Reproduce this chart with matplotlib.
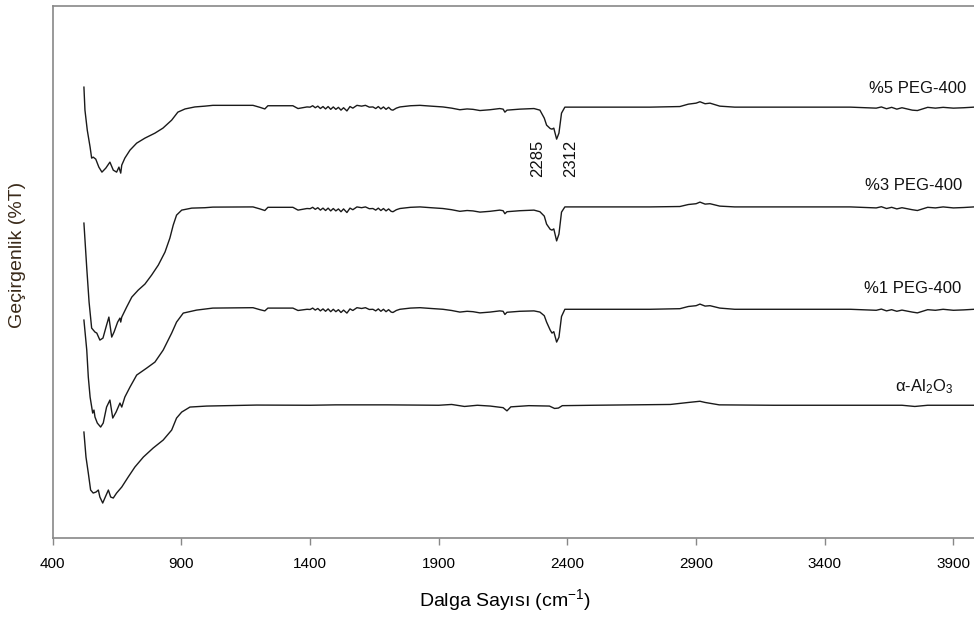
"""FT-IR spectra of alpha-Al2O3 and PEG-400 coated samples (stacked, offset)."""
import matplotlib
matplotlib.use("Agg")
import matplotlib.pyplot as plt

plt.rcParams["font.family"] = ["Liberation Sans", "DejaVu Sans"]
plt.rcParams["mathtext.fontset"] = "custom"
plt.rcParams["mathtext.rm"] = "Liberation Sans"
plt.rcParams["mathtext.default"] = "regular"

# wavenumber (cm-1) / offset transmittance
peg5_wn = [521, 525, 534, 545, 551, 557, 567, 579, 591, 606, 622, 635, 648, 657, 664, 668,
           680, 700, 726, 758, 797, 828, 862, 886, 914, 952, 991, 1022, 1178, 1205, 1224,
           1236, 1333, 1353, 1388, 1400, 1410, 1420, 1430, 1440, 1450, 1460, 1470, 1480,
           1490, 1500, 1510, 1520, 1530, 1543, 1555, 1566, 1582, 1600, 1615, 1630, 1644,
           1655, 1665, 1675, 1685, 1695, 1705, 1715, 1722, 1735, 1749, 1790, 1827, 1870,
           1916, 1950, 1982, 2010, 2033, 2060, 2099, 2137, 2150, 2157, 2165, 2215, 2270,
           2293, 2310, 2319, 2333, 2340, 2347, 2358, 2367, 2377, 2390, 2409, 2526, 2721,
           2837, 2870, 2900, 2915, 2935, 2954, 2992, 3050, 3500, 3560, 3600, 3620, 3640,
           3660, 3680, 3700, 3720, 3740, 3760, 3780, 3800, 3830, 3860, 3900, 3940, 3980]
peg5_t = [112.75, 107, 102, 97.75, 95, 95.25, 94.75, 92.75, 91.5, 92.5, 94, 92, 91.5, 92.75,
          91.25, 93.25, 95, 97, 98.75, 100, 101.25, 102.5, 104.5, 106.5, 107.3, 107.8, 108,
          108.2, 108.2, 107.7, 107.3, 108.1, 108.1, 107.4, 107.8, 107.75, 108.1, 107.6,
          108.0, 107.4, 107.9, 107.3, 107.9, 107.2, 107.8, 107.2, 107.7, 107.0, 107.6, 106.8,
          107.9, 107.5, 108.2, 108, 108.2, 107.75, 107.8, 107.4, 107.9, 107.3, 107.8, 107.2,
          107.7, 107.1, 107.0, 107.5, 107.8, 108.1, 108.2, 108, 107.8, 107.5, 107.1, 107.3,
          107.2, 106.9, 107.1, 107.4, 107.25, 106.5, 107, 107.25, 107.4, 107, 105, 103.25,
          102.4, 102.25, 102.5, 99.75, 101.25, 106.25, 107.75, 107.75, 107.75, 107.75,
          107.9, 108.5, 108.75, 109.1, 108.6, 108.75, 108, 107.75, 107.75, 107.6, 107.5,
          107.8, 107.35, 107.7, 107.25, 107.6, 107.3, 107.0, 106.9, 107.3, 107.7, 107.5,
          107.7, 107.5, 107.6, 107.75]

peg3_wn = [521, 532, 541, 551, 564, 571, 583, 595, 609, 618, 629, 638, 652, 661, 664, 668,
           687, 707, 732, 758, 784, 810, 836, 855, 868, 881, 901, 940, 991, 1022, 1178,
           1205, 1224, 1236, 1333, 1353, 1388, 1400, 1410, 1420, 1430, 1440, 1450, 1460,
           1470, 1480, 1490, 1500, 1510, 1520, 1530, 1543, 1555, 1566, 1582, 1600, 1615,
           1630, 1644, 1655, 1665, 1675, 1685, 1695, 1705, 1715, 1722, 1735, 1749, 1790,
           1827, 1870, 1916, 1950, 1982, 2010, 2033, 2060, 2099, 2137, 2150, 2157, 2165,
           2215, 2270, 2293, 2310, 2319, 2333, 2340, 2347, 2358, 2367, 2377, 2390, 2409,
           2526, 2721, 2837, 2870, 2900, 2915, 2935, 2954, 2992, 3050, 3500, 3560, 3600,
           3620, 3640, 3660, 3680, 3700, 3720, 3740, 3760, 3780, 3800, 3830, 3860, 3900,
           3940, 3980]
peg3_t = [78.75, 67.5, 59, 52.5, 51.5, 51.25, 49.5, 50, 53.25, 55.25, 50.25, 51.5, 54, 55,
          54, 55.25, 57.75, 60.25, 62, 63.5, 65.75, 68.25, 71.5, 75, 78.25, 80.75, 82, 82.5,
          82.6, 82.75, 82.8, 82.3, 81.9, 82.7, 82.7, 82.0, 82.4, 82.35, 82.7, 82.2, 82.6,
          82.0, 82.5, 81.9, 82.5, 81.8, 82.4, 81.8, 82.3, 81.6, 82.3, 81.4, 82.5, 82.1,
          82.8, 82.6, 82.8, 82.35, 82.4, 82.0, 82.5, 81.9, 82.4, 81.8, 82.3, 81.7, 81.6,
          82.1, 82.4, 82.7, 82.8, 82.6, 82.4, 82.1, 81.7, 81.9, 81.8, 81.5, 81.7, 82.0,
          81.85, 81.1, 81.6, 81.85, 82.0, 81.6, 80.5, 78.5, 77.2, 77.0, 77.3, 74.3, 76.0,
          81.5, 82.8, 82.8, 82.8, 82.8, 82.9, 83.4, 83.6, 84.0, 83.5, 83.6, 83.0, 82.8, 82.8,
          82.65, 82.55, 82.85, 82.4, 82.7, 82.3, 82.6, 82.35, 82.1, 81.9, 82.3, 82.7, 82.55,
          82.8, 82.55, 82.65, 82.8]

peg1_wn = [521, 532, 538, 545, 555, 560, 564, 573, 586, 596, 609, 622, 633, 646, 661, 668,
           680, 700, 726, 765, 797, 829, 862, 881, 907, 959, 1022, 1178, 1205, 1224, 1236,
           1333, 1353, 1388, 1400, 1410, 1420, 1430, 1440, 1450, 1460, 1470, 1480, 1490,
           1500, 1510, 1520, 1530, 1543, 1555, 1566, 1582, 1600, 1615, 1630, 1644, 1655,
           1665, 1675, 1685, 1695, 1705, 1715, 1722, 1735, 1749, 1790, 1827, 1870, 1916,
           1950, 1982, 2010, 2033, 2060, 2099, 2137, 2150, 2157, 2165, 2215, 2270, 2293,
           2310, 2319, 2333, 2340, 2347, 2358, 2367, 2377, 2390, 2409, 2526, 2721, 2837,
           2870, 2900, 2915, 2935, 2954, 2992, 3050, 3500, 3560, 3600, 3620, 3640, 3660,
           3680, 3700, 3720, 3740, 3760, 3780, 3800, 3830, 3860, 3900, 3940, 3980]
peg1_t = [54.5, 47, 40.25, 35.25, 31.25, 32, 30.25, 28.75, 27.75, 28.75, 32.75, 34.5, 30,
          31.5, 33.75, 32.75, 35.25, 37.75, 40.75, 42.5, 44, 47, 51.25, 54, 56.25, 57, 57.5,
          57.6, 57.1, 56.8, 57.5, 57.5, 56.9, 57.2, 57.15, 57.5, 57.0, 57.4, 56.8, 57.3,
          56.7, 57.3, 56.6, 57.2, 56.6, 57.1, 56.4, 57.0, 56.25, 57.3, 56.9, 57.6, 57.4,
          57.6, 57.15, 57.2, 56.8, 57.3, 56.7, 57.2, 56.6, 57.1, 56.5, 56.4, 56.9,
          57.2, 57.5, 57.6, 57.4, 57.2, 56.9, 56.5, 56.7, 56.6, 56.3, 56.5, 56.8, 56.7,
          55.9, 56.45, 56.7, 56.8, 56.5, 55.6, 54.0, 52.0, 51.25, 51.6, 49.0, 50.2, 55.4,
          57.2, 57.2, 57.2, 57.2, 57.35, 57.9, 58.1, 58.5, 58.0, 58.1, 57.5, 57.2, 57.2,
          57.05, 56.95, 57.25, 56.8, 57.1, 56.7, 57.0, 56.75, 56.5, 56.3, 56.7, 57.1,
          56.95, 57.2, 56.95, 57.05, 57.2]

al2o3_wn = [521, 529, 538, 547, 557, 568, 577, 583, 594, 604, 616, 625, 635, 648, 668, 693,
            719, 752, 790, 829, 862, 881, 901, 933, 998, 1192, 1400, 1500, 1700, 1900,
            1950, 2000, 2050, 2100, 2150, 2165, 2180, 2250, 2330, 2350, 2365, 2380, 2500,
            2800, 2870, 2915, 2935, 2990, 3200, 3700, 3750, 3800, 3980]
al2o3_t = [26.5, 20.25, 16.25, 12, 11.25, 11.5, 12, 10.25, 8.75, 10.25, 12, 10.25, 10, 11.25,
           12.75, 15.25, 17.75, 20.25, 22.5, 24.5, 27, 30, 31.5, 32.75, 33, 33.25, 33.2,
           33.3, 33.3, 33.2, 33.4, 32.9, 33.2, 33.0, 32.6, 31.8, 32.8, 33.1, 33.0, 32.4,
           32.5, 33.1, 33.2, 33.4, 33.9, 34.2, 33.9, 33.3, 33.2, 33.2, 32.9, 33.2, 33.2]

series_names = ["%5 PEG-400", "%3 PEG-400", "%1 PEG-400", "α-Al$_2$O$_3$"]
label_pos = [(3948, 112.5), (3936, 88.25), (3932, 62.5), (3897, 37.75)]
peak_labels = ["2285", "2312"]
peak_pos = [(2286, 95), (2414, 95)]
x_ticks = [400, 900, 1400, 1900, 2400, 2900, 3400, 3900]


def plot() -> None:
    fig = plt.figure(figsize=(9.74, 6.17), dpi=100)
    ax = fig.add_axes([0.0542, 0.128, 0.9458, 0.862])

    for wn, t in [(peg5_wn, peg5_t), (peg3_wn, peg3_t), (peg1_wn, peg1_t), (al2o3_wn, al2o3_t)]:
        ax.plot(wn, t, color="#1a1a1a", lw=1.0)

    for name, (x, y) in zip(series_names, label_pos):
        ax.text(x, y, name, ha="right", va="center", fontsize=12, color="#111111")

    for lab, (x, y) in zip(peak_labels, peak_pos):
        ax.text(x, y, lab, rotation=90, ha="center", va="center", fontsize=12, color="#111111")

    ax.set_xlim(400, 3980)
    ax.set_ylim(0, 133)
    ax.set_xticks(x_ticks)
    ax.set_xticklabels([str(v) for v in x_ticks], fontsize=11)
    ax.set_yticks([])
    ax.tick_params(axis="x", direction="out", length=5, width=1, color="#888888", pad=9)

    for side in ("left", "top", "bottom"):
        ax.spines[side].set_color("#888888")
        ax.spines[side].set_linewidth(1.2)
    ax.spines["right"].set_visible(False)

    ax.set_xlabel("Dalga Sayısı (cm$^{-1}$)", fontsize=14, va="center")
    ax.xaxis.set_label_coords(0.491, -0.117)
    ax.set_ylabel("Geçirgenlik (%T)", fontsize=14, color="#3a2a1a", va="center")
    ax.yaxis.set_label_coords(-0.038, 0.532)

    fig.savefig("out.png", dpi=100)
    plt.close(fig)


if __name__ == "__main__":
    plot()
